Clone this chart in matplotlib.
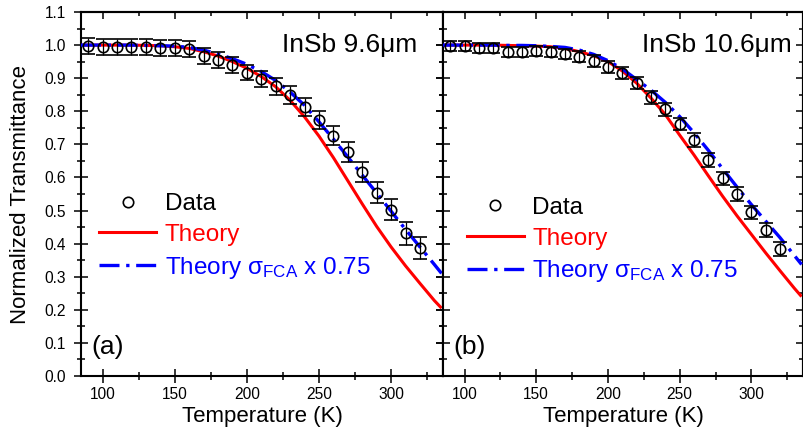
import numpy as np
import matplotlib
matplotlib.use("Agg")
import matplotlib.pyplot as plt
from matplotlib.lines import Line2D
from matplotlib.ticker import MultipleLocator

plt.rcParams['font.family'] = ['Liberation Sans', 'DejaVu Sans']
plt.rcParams['mathtext.fontset'] = 'custom'
plt.rcParams['mathtext.rm'] = 'Liberation Sans'
plt.rcParams['mathtext.it'] = 'Liberation Sans'
plt.rcParams['mathtext.default'] = 'rm'

# measured transmittance, 10 K steps
temp_data = [90, 100, 110, 120, 130, 140, 150, 160, 170, 180, 190, 200,
             210, 220, 230, 240, 250, 260, 270, 280, 290, 300, 310, 320]

trans_96 = [0.998, 0.995, 0.995, 0.993, 0.993, 0.990, 0.990, 0.987, 0.967, 0.955, 0.940, 0.917,
            0.898, 0.876, 0.849, 0.814, 0.774, 0.726, 0.678, 0.616, 0.554, 0.502, 0.431, 0.387]
err_96 = [0.024, 0.024, 0.024, 0.024, 0.024, 0.024, 0.024, 0.024, 0.024, 0.024, 0.024, 0.024,
          0.025, 0.026, 0.026, 0.027, 0.028, 0.028, 0.030, 0.030, 0.032, 0.032, 0.035, 0.034]

trans_106 = [0.998, 0.998, 0.990, 0.990, 0.978, 0.978, 0.982, 0.980, 0.973, 0.965, 0.952, 0.935,
             0.915, 0.885, 0.842, 0.806, 0.761, 0.713, 0.653, 0.597, 0.550, 0.495, 0.441, 0.384]
err_106 = [0.015, 0.015, 0.015, 0.015, 0.015, 0.015, 0.015, 0.015, 0.016, 0.016, 0.017, 0.018,
           0.018, 0.018, 0.019, 0.019, 0.019, 0.020, 0.020, 0.020, 0.020, 0.020, 0.020, 0.020]

# model curves
temp_model = [85, 100, 110, 120, 130, 140, 150, 160, 170, 180, 190, 200, 210, 220,
              230, 240, 250, 260, 270, 280, 290, 300, 310, 320, 330, 335]

theory_96 = [1.000, 1.000, 1.000, 1.000, 0.999, 0.998, 0.995, 0.990, 0.980, 0.967, 0.950, 0.930, 0.905, 0.874,
             0.833, 0.783, 0.725, 0.660, 0.590, 0.520, 0.452, 0.390, 0.333, 0.280, 0.228, 0.205]
scaled_96 = [1.000, 1.000, 1.000, 1.000, 0.999, 0.998, 0.997, 0.993, 0.985, 0.973, 0.959, 0.942, 0.920, 0.893,
             0.858, 0.818, 0.768, 0.716, 0.662, 0.607, 0.553, 0.498, 0.443, 0.390, 0.337, 0.310]

theory_106 = [1.000, 1.000, 1.000, 1.000, 0.999, 0.998, 0.997, 0.995, 0.990, 0.980, 0.968, 0.950, 0.922, 0.885,
              0.840, 0.790, 0.728, 0.668, 0.605, 0.543, 0.484, 0.428, 0.372, 0.318, 0.265, 0.240]
scaled_106 = [1.000, 1.000, 1.000, 1.000, 0.999, 0.999, 0.998, 0.996, 0.993, 0.985, 0.972, 0.953, 0.928, 0.896,
              0.864, 0.827, 0.784, 0.735, 0.682, 0.626, 0.571, 0.518, 0.468, 0.418, 0.364, 0.337]

panels = [
    ("InSb 9.6μm", "(a)", trans_96, err_96, theory_96, scaled_96),
    ("InSb 10.6μm", "(b)", trans_106, err_106, theory_106, scaled_106),
]

RED = '#ff0000'
BLUE = '#0000ff'
DASHDOT = (0, (6, 2, 1, 2))

fig = plt.figure(figsize=(8.04, 4.33), dpi=100)
W, H = 804, 433
ax_a = fig.add_axes([81 / W, (H - 376) / H, 362 / W, 364 / H])
ax_b = fig.add_axes([443 / W, (H - 376) / H, 360 / W, 364 / H])

legend_pos = [(0.05, 0.382), (0.066, 0.372)]
title_x = [0.93, 0.97]

for i, (ax, (title, tag, y, yerr, th, sc)) in enumerate(zip([ax_a, ax_b], panels)):
    ax.plot(temp_model, th, color=RED, lw=2.2, solid_capstyle='butt', zorder=2)
    ax.plot(temp_model, sc, color=BLUE, lw=2.4, linestyle=DASHDOT, zorder=3)
    ax.errorbar(temp_data, y, yerr=yerr, fmt='o', mfc='none', mec='black', mew=1.2,
                ms=7.5, ecolor='black', elinewidth=0.9, capsize=5, capthick=0.9, zorder=4)

    ax.set_xlim(85, 336)
    ax.set_ylim(0, 1.1)
    ax.xaxis.set_major_locator(MultipleLocator(50))
    ax.xaxis.set_minor_locator(MultipleLocator(25))
    ax.yaxis.set_major_locator(MultipleLocator(0.1))
    ax.yaxis.set_minor_locator(MultipleLocator(0.05))
    ax.yaxis.set_major_formatter(plt.FuncFormatter(lambda v, p: f"{v:.1f}"))
    ax.tick_params(which='major', direction='inout', length=9.5, width=1.1, labelsize=11.2)
    ax.tick_params(axis='x', which='major', pad=3)
    ax.tick_params(axis='y', which='major', pad=6)
    ax.tick_params(which='minor', direction='inout', length=6, width=1.1)
    for s in ax.spines.values():
        s.set_linewidth(1.5)

    # ticks on top and right point inward only
    top = ax.secondary_xaxis('top')
    top.xaxis.set_major_locator(MultipleLocator(50))
    top.xaxis.set_minor_locator(MultipleLocator(25))
    top.tick_params(which='major', direction='in', length=5, width=1.1, labeltop=False)
    top.tick_params(which='minor', direction='in', length=3.2, width=1.1)
    right = ax.secondary_yaxis('right')
    right.yaxis.set_major_locator(MultipleLocator(0.1))
    right.yaxis.set_minor_locator(MultipleLocator(0.05))
    right.tick_params(which='major', direction='in', length=5, width=1.1, labelright=False)
    right.tick_params(which='minor', direction='in', length=3.2, width=1.1)
    top.spines['top'].set_linewidth(1.5)
    right.spines['right'].set_linewidth(1.5)

    ax.set_xlabel("Temperature (K)", fontsize=16, labelpad=3)
    ax.text(title_x[i], 0.91, title, transform=ax.transAxes, ha='right', va='center', fontsize=19)
    ax.text(0.03, 0.08, tag, transform=ax.transAxes, ha='left', va='center', fontsize=19)

    handles = [
        Line2D([], [], ls='none', marker='o', mfc='none', mec='black', mew=1.2, ms=7.5),
        Line2D([], [], color=RED, lw=2.2),
        Line2D([], [], color=BLUE, lw=2.4, linestyle=DASHDOT),
    ]
    labels = ["Data", "Theory", "Theory $\\sigma_{\\mathrm{FCA}}$ x 0.75"]
    leg = ax.legend(handles, labels, loc='center left', bbox_to_anchor=legend_pos[i],
                    frameon=False, fontsize=17.5, handlelength=2.35, handletextpad=0.35,
                    labelspacing=0.36, borderpad=0, borderaxespad=0)
    for txt, c in zip(leg.get_texts(), ['black', RED, BLUE]):
        txt.set_color(c)

ax_a.set_ylabel("Normalized Transmittance", fontsize=16, labelpad=10)
ax_b.tick_params(axis='y', labelleft=False)

fig.savefig("out.png", dpi=100)
